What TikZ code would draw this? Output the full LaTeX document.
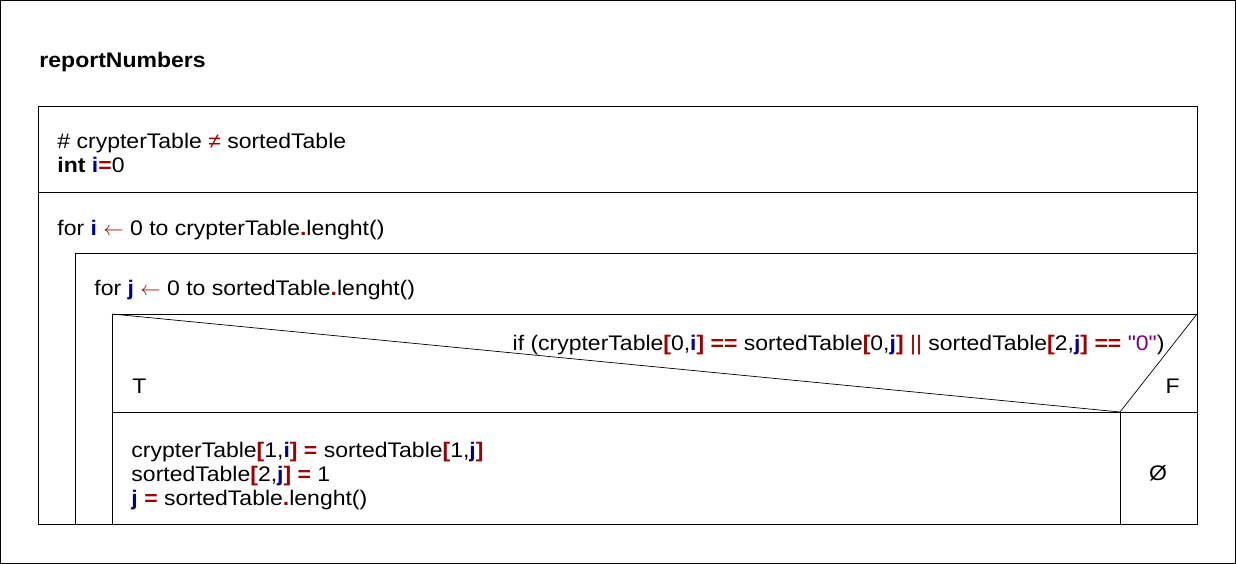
\documentclass[tikz,border=0pt]{standalone}
\usepackage{fontspec}
\setmainfont{Liberation Sans}[FakeStretch=1.09]
\newfontfamily\plainfont{Liberation Sans}[FakeStretch=1.09]
\definecolor{opred}{RGB}{160,0,0}
\definecolor{varblue}{RGB}{0,0,150}
\definecolor{strpurple}{RGB}{128,0,128}
\newcommand{\opr}[1]{\textcolor{opred}{\textbf{#1}}}
\newcommand{\vbl}[1]{\textcolor{varblue}{\textbf{#1}}}
\newcommand{\getsarrow}{\textcolor{opred}{$\leftarrow$}}
\newcommand{\strq}{{\plainfont"}}

\begin{document}
\begin{tikzpicture}[x=0.025cm, y=-0.025cm, line width=0.7pt,
  txt/.style={anchor=base west, inner sep=0pt, font=\fontsize{15}{17}\selectfont}]
  \useasboundingbox (0,0) rectangle (1236,564);
  \draw (0.5,0.5) rectangle (1235.5,563.5);
  % corners of the blocks
  \coordinate (tl) at (38,106);
  \coordinate (tr) at (1197,106);
  \coordinate (bl) at (38,524);
  \coordinate (br) at (1197,524);
  \coordinate (s1l) at (38,192);
  \coordinate (s1r) at (1197,192);
  \coordinate (fil) at (75,253);
  \coordinate (fir) at (1197,253);
  \coordinate (fib) at (75,524);
  \coordinate (fjl) at (112,314);
  \coordinate (fjr) at (1197,314);
  \coordinate (fjb) at (112,524);
  \coordinate (tip) at (1120,412);
  \coordinate (tipb) at (1120,524);
  \coordinate (cl) at (112,412);
  \coordinate (cr) at (1197,412);
  \draw (tl) -- (tr) -- (br) -- (bl) -- cycle;
  \draw (s1l) -- (s1r);
  \draw (fir) -- (fil) -- (fib);
  \draw (fjr) -- (fjl) -- (fjb);
  \draw (cl) -- (cr);
  \draw[line width=0.5pt] (fjl) -- (tip) -- (fjr);
  \draw (tip) -- (tipb);
  % texts
  \node[txt, font=\fontsize{15}{17}\selectfont\bfseries] (title) at (39,68) {reportNumbers};
  \node[txt] (decl) at (57,149) {\# crypterTable \textcolor{opred}{≠} sortedTable};
  \node[txt] (init) at (57,173) {\textbf{int} \vbl{i}\opr{=}0};
  \node[txt] (fori) at (57,235) {for \vbl{i} \getsarrow{} 0 to crypterTable\opr{.}lenght()};
  \node[txt] (forj) at (94,295) {for \vbl{j} \getsarrow{} 0 to sortedTable\opr{.}lenght()};
  \node[txt, anchor=base east] (cond) at (1165,350) {if (crypterTable\opr{[}0,\vbl{i}\opr{]} \opr{==} sortedTable\opr{[}0,\vbl{j}\opr{]} \textcolor{opred}{||} sortedTable\opr{[}2,\vbl{j}\opr{]} \opr{==} \textcolor{strpurple}{\strq0\strq})};
  \node[txt] (yes) at (132,393) {T};
  \node[txt] (no) at (1165,393) {F};
  \node[txt] (body1) at (131,457) {crypterTable\opr{[}1,\vbl{i}\opr{]} \opr{=} sortedTable\opr{[}1,\vbl{j}\opr{]}};
  \node[txt] (body2) at (131,481) {sortedTable\opr{[}2,\vbl{j}\opr{]} \opr{=} 1};
  \node[txt] (body3) at (131,505) {\vbl{j} \opr{=} sortedTable\opr{.}lenght()};
  \node[txt, anchor=base] (empty) at (1158,480) {Ø};
\end{tikzpicture}
\end{document}
